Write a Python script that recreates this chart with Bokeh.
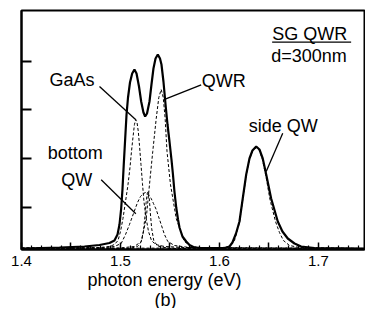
from bokeh.plotting import figure
from bokeh.models import Range1d, FixedTicker, Label, Title, CustomLabelingPolicy
from bokeh.embed import file_html
from bokeh.resources import INLINE

# ---- data: photon energy (eV) vs PL intensity (arb. units) ----
total_E = [1.4000, 1.4384, 1.4636, 1.4788, 1.4889, 1.4939, 1.4970, 1.4990, 1.5007, 1.5020,
           1.5033, 1.5047, 1.5061, 1.5076, 1.5096, 1.5118, 1.5141, 1.5162, 1.5187, 1.5209,
           1.5232, 1.5249, 1.5268, 1.5293, 1.5313, 1.5333, 1.5354, 1.5377, 1.5399, 1.5414,
           1.5434, 1.5455, 1.5475, 1.5495, 1.5515, 1.5530, 1.5545, 1.5563, 1.5581, 1.5596,
           1.5626, 1.5664, 1.5697, 1.5737, 1.5798, 1.6051, 1.6101, 1.6131, 1.6167, 1.6202,
           1.6235, 1.6270, 1.6303, 1.6333, 1.6371, 1.6404, 1.6437, 1.6472, 1.6522, 1.6589,
           1.6636, 1.6690, 1.6758, 1.6825, 1.6960, 1.7465]
total_I = [1, 2, 3, 4.5, 6.5, 9, 15, 25, 41, 60,
           85, 110, 135, 152, 167, 176, 180, 176, 163, 148,
           137, 133, 136, 148, 165, 181, 191, 195, 191, 185,
           168, 145, 125, 108, 90, 75, 58, 42, 30, 22,
           13, 8, 4.5, 2.5, 1.5, 1.5, 3, 7, 16, 28,
           51, 75, 91, 99, 103, 100, 91, 75, 51, 28,
           18, 11, 6, 3, 1.5, 1]

gaas_E = [1.4000, 1.4788, 1.4889, 1.4939, 1.4975, 1.5000, 1.5025, 1.5051, 1.5076, 1.5096,
          1.5111, 1.5126, 1.5141, 1.5154, 1.5167, 1.5180, 1.5192, 1.5207, 1.5222, 1.5237,
          1.5258, 1.5283, 1.5313, 1.5354, 1.5444, 1.5646, 1.7465]
gaas_I = [1.5, 2, 3, 5, 9, 18, 31, 48, 65, 82,
          98, 112, 125, 130, 127, 118, 104, 85, 66, 48,
          32, 18, 9, 5, 3, 2, 1]

bottom_E = [1.4000, 1.4788, 1.4939, 1.5007, 1.5051, 1.5091, 1.5131, 1.5172, 1.5202, 1.5232,
            1.5253, 1.5278, 1.5310, 1.5333, 1.5361, 1.5384, 1.5411, 1.5444, 1.5478, 1.5545,
            1.5697, 1.7465]
bottom_I = [1, 1.5, 3, 6, 15, 25, 36, 47, 53, 56,
            57, 55, 51, 46, 40, 33, 25, 15, 8, 4,
            2, 1]

narrow_E = [1.4000, 1.5091, 1.5172, 1.5212, 1.5232, 1.5247, 1.5259, 1.5270, 1.5281, 1.5291,
            1.5301, 1.5315, 1.5336, 1.5374, 1.5495, 1.7465]
narrow_I = [0.5, 1, 3, 8, 18, 33, 47, 56, 58, 51,
            37, 21, 9, 3.5, 1, 0.5]

qwr_E = [1.4000, 1.4990, 1.5141, 1.5209, 1.5260, 1.5293, 1.5326, 1.5361, 1.5387, 1.5411,
         1.5432, 1.5451, 1.5470, 1.5505, 1.5563, 1.5646, 1.5727, 1.5899, 1.7465]
qwr_I = [1.5, 1.5, 3, 8, 31, 65, 98, 131, 152, 160,
         152, 131, 98, 65, 31, 8, 2.5, 1.5, 1]

side_E = [1.4000, 1.5798, 1.6000, 1.6101, 1.6152, 1.6202, 1.6235, 1.6270, 1.6303, 1.6333,
          1.6371, 1.6404, 1.6434, 1.6470, 1.6510, 1.6566, 1.6606, 1.6646, 1.6707, 1.6808,
          1.7465]
side_I = [1, 1.5, 1.5, 3, 9, 27, 50, 74, 90, 98,
          102, 99, 90, 73, 50, 28, 17, 9, 4, 2,
          1]

x_major = [1.40, 1.45, 1.50, 1.55, 1.60, 1.65, 1.70]
x_minor = [1.41, 1.42, 1.43, 1.44, 1.46, 1.47, 1.48, 1.49, 1.51, 1.52, 1.53, 1.54,
           1.56, 1.57, 1.58, 1.59, 1.61, 1.62, 1.63, 1.64, 1.66, 1.67, 1.68, 1.69,
           1.71, 1.72, 1.73, 1.74]
y_ticks = [42, 91, 140, 188]

FONT = "Liberation Sans"

p = figure(frame_width=343, frame_height=239, output_backend="svg", toolbar_location=None,
           x_range=Range1d(1.4, 1.7465), y_range=Range1d(0, 239),
           min_border_left=14, min_border_right=1, min_border_top=10, min_border_bottom=0)
p.background_fill_color = "white"
p.border_fill_color = "white"
p.xgrid.visible = False
p.ygrid.visible = False
p.outline_line_color = "black"
p.outline_line_width = 2

ax = p.xaxis[0]
ax.ticker = FixedTicker(ticks=x_major, minor_ticks=x_minor)
# label only every other major tick (1.4, 1.5, 1.6, 1.7)
ax.major_label_policy = CustomLabelingPolicy(
    code="for (const i of indices) { if (i % 2 == 1) { indices.unset(i) } } return indices")
ax.major_tick_in = 7
ax.major_tick_out = 0
ax.minor_tick_in = 4
ax.minor_tick_out = 0
ax.axis_line_width = 2
ax.major_tick_line_width = 1.5
ax.minor_tick_line_width = 1.2
ax.major_label_text_font = FONT
ax.major_label_text_font_size = "15px"
ax.major_label_text_color = "black"
ax.major_label_standoff = 6

ay = p.yaxis[0]
ay.ticker = FixedTicker(ticks=y_ticks, minor_ticks=[])
ay.major_label_policy = CustomLabelingPolicy(
    code="for (const i of indices) { indices.unset(i) } return indices")
ay.major_tick_in = 10
ay.major_tick_out = 0
ay.major_tick_line_width = 2
ay.axis_line_width = 2
ay.major_label_standoff = 0

dash = "3 2"
for E, I in [(gaas_E, gaas_I), (bottom_E, bottom_I), (narrow_E, narrow_I),
             (qwr_E, qwr_I), (side_E, side_I)]:
    p.line(E, I, line_color="black", line_width=1, line_dash=dash)
p.line(total_E, total_I, line_color="black", line_width=2.2)

# leader lines (annotation)
lead_x0 = [1.4788, 1.4805, 1.5815, 1.6639]
lead_y0 = [163, 69.7, 164.7, 116.3]
lead_x1 = [1.5155, 1.5155, 1.5452, 1.6472]
lead_y1 = [129.7, 35.7, 150.3, 78]
p.segment(lead_x0, lead_y0, lead_x1, lead_y1, line_color="black", line_width=1.3)
# underline of title
p.segment([1.6532], [207.3], [1.7330], [207.3], line_color="black", line_width=1.3)

def lab(x, y, t):
    p.add_layout(Label(x=x, y=y, text=t, text_font=FONT, text_font_size="18px",
                       text_color="black", text_align="left", text_baseline="middle"))

lab(1.4283, 169.1, "GaAs")
lab(1.4266, 96.3, "bottom")
lab(1.4401, 69.3, "QW")
lab(1.5821, 168.1, "QWR")
lab(1.6296, 123.8, "side QW")
lab(1.6532, 215.8, "SG QWR")
lab(1.6522, 193.5, "d=300nm")

p.add_layout(Title(text="photon energy (eV)", align="left", offset=66, standoff=-2,
                   text_font=FONT, text_font_size="18px", text_font_style="normal",
                   text_color="black"), "below")
p.add_layout(Title(text="(b)", align="left", offset=133, standoff=-2,
                   text_font=FONT, text_font_size="18px", text_font_style="normal",
                   text_color="black"), "below")

open("out.html", "w").write(file_html(p, INLINE))
